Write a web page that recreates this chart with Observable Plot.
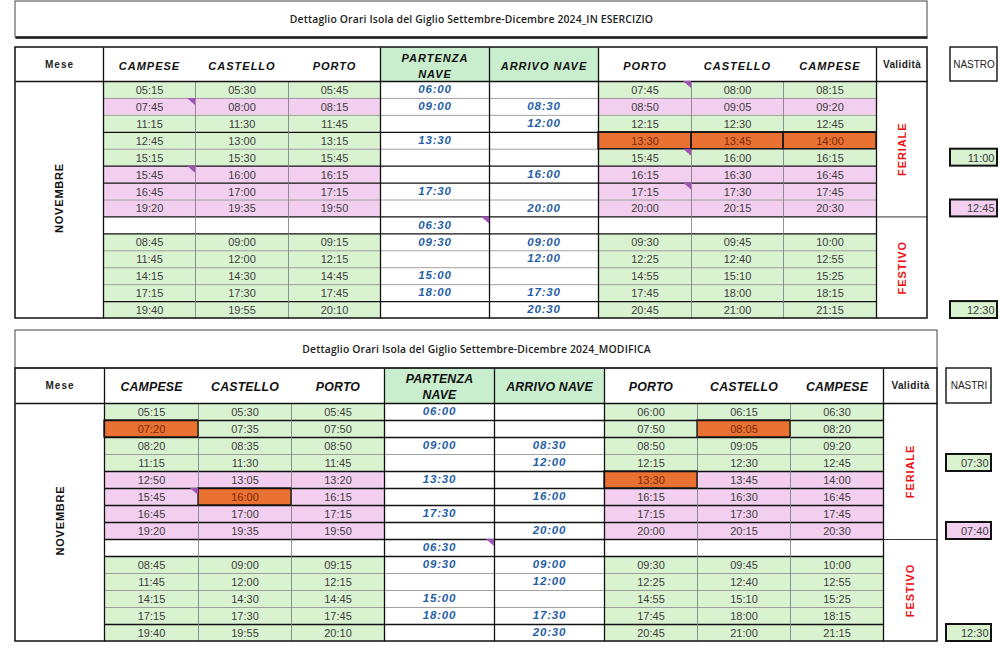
<!DOCTYPE html>
<html><head><meta charset="utf-8">
<script src="https://cdn.jsdelivr.net/npm/d3@7"></script>
<script src="https://cdn.jsdelivr.net/npm/@observablehq/plot@0.6"></script>
<style>
html,body{margin:0;padding:0;background:#fff;overflow:hidden}
</style>
</head><body><div id="chart"></div>
<script>
// ---------------- DATA ----------------
const titles = ["Dettaglio Orari Isola del Giglio Settembre-Dicembre 2024_IN ESERCIZIO",
                "Dettaglio Orari Isola del Giglio Settembre-Dicembre 2024_MODIFICA"];
const headerLabels = ["Mese","CAMPESE","CASTELLO","PORTO","PARTENZA\nNAVE","ARRIVO NAVE","PORTO","CASTELLO","CAMPESE","Validità"];
const nastroLabels = ["NASTRO","NASTRI"];
const monthLabel = "NOVEMBRE";
const validityLabels = ["FERIALE","FESTIVO"];
const validityRowCounts = [8, 6];

// Table 1 – IN ESERCIZIO
const t1Campese   = ["05:15","07:45","11:15","12:45","15:15","15:45","16:45","19:20","","08:45","11:45","14:15","17:15","19:40"];
const t1Castello  = ["05:30","08:00","11:30","13:00","15:30","16:00","17:00","19:35","","09:00","12:00","14:30","17:30","19:55"];
const t1Porto     = ["05:45","08:15","11:45","13:15","15:45","16:15","17:15","19:50","","09:15","12:15","14:45","17:45","20:10"];
const t1Partenza  = ["06:00","09:00","","13:30","","","17:30","","06:30","09:30","","15:00","18:00",""];
const t1Arrivo    = ["","08:30","12:00","","","16:00","","20:00","","09:00","12:00","","17:30","20:30"];
const t1PortoR    = ["07:45","08:50","12:15","13:30","15:45","16:15","17:15","20:00","","09:30","12:25","14:55","17:45","20:45"];
const t1CastelloR = ["08:00","09:05","12:30","13:45","16:00","16:30","17:30","20:15","","09:45","12:40","15:10","18:00","21:00"];
const t1CampeseR  = ["08:15","09:20","12:45","14:00","16:15","16:45","17:45","20:30","","10:00","12:55","15:25","18:15","21:15"];
const t1LeftBand  = ["g","p","g","g","g","p","p","p","w","g","g","g","g","g"];
const t1RightBand = ["g","p","g","g","g","p","p","p","w","g","g","g","g","g"];
const t1Changed   = [[6,3],[7,3],[8,3]];
const t1Notes     = [[1,1],[1,5],[4,8],[6,0],[6,4],[6,6]];
const t1NastroRows  = [4,7,13];
const t1NastroTimes = ["11:00","12:45","12:30"];
const t1NastroBand  = ["g","p","g"];

// Table 2 – MODIFICA
const t2Campese   = ["05:15","07:20","08:20","11:15","12:50","15:45","16:45","19:20","","08:45","11:45","14:15","17:15","19:40"];
const t2Castello  = ["05:30","07:35","08:35","11:30","13:05","16:00","17:00","19:35","","09:00","12:00","14:30","17:30","19:55"];
const t2Porto     = ["05:45","07:50","08:50","11:45","13:20","16:15","17:15","19:50","","09:15","12:15","14:45","17:45","20:10"];
const t2Partenza  = ["06:00","","09:00","","13:30","","17:30","","06:30","09:30","","15:00","18:00",""];
const t2Arrivo    = ["","","08:30","12:00","","16:00","","20:00","","09:00","12:00","","17:30","20:30"];
const t2PortoR    = ["06:00","07:50","08:50","12:15","13:30","16:15","17:15","20:00","","09:30","12:25","14:55","17:45","20:45"];
const t2CastelloR = ["06:15","08:05","09:05","12:30","13:45","16:30","17:30","20:15","","09:45","12:40","15:10","18:00","21:00"];
const t2CampeseR  = ["06:30","08:20","09:20","12:45","14:00","16:45","17:45","20:30","","10:00","12:55","15:25","18:15","21:15"];
const t2LeftBand  = ["g","g","g","g","p","p","p","p","w","g","g","g","g","g"];
const t2RightBand = ["g","g","g","g","p","p","p","p","w","g","g","g","g","g"];
const t2Changed   = [[1,1],[2,5],[7,1],[6,4]];
const t2Notes     = [[1,5],[4,8]];
const t2NastroRows  = [3,7,13];
const t2NastroTimes = ["07:30","07:40","12:30"];
const t2NastroBand  = ["g","p","g"];

// ---------------- LAYOUT / STYLE ----------------
const bandColor = {g:"#d9f2d0", p:"#f2ceef", w:"#ffffff"};
const ORANGE = "#e97132", HEADGREEN = "#c9eecd", BLUE = "#1f5ea6", NOTE = "#a052b8";
const layouts = [
  {cols:[15,103,195,288,380,489,598,691,783,876,927], titleTop:1, titleBot:37, titleGap:true,
   headTop:47, headBot:81, bodyBot:318, nastroX:[950,997], thick:[3,5,6,8,9,13]},
  {cols:[15,104,198,291,384,494,604,697,790,883,937], titleTop:330, titleBot:368, titleGap:false,
   headTop:368, headBot:403, bodyBot:641, nastroX:[946,991], thick:[1,2,4,5,6,7,8,9,13]}
];
const tables = [
  {cols:[t1Campese,t1Castello,t1Porto,t1Partenza,t1Arrivo,t1PortoR,t1CastelloR,t1CampeseR],
   left:t1LeftBand, right:t1RightBand, changed:t1Changed, notes:t1Notes,
   nRows:t1NastroRows, nTimes:t1NastroTimes, nBand:t1NastroBand, nBold:"normal"},
  {cols:[t2Campese,t2Castello,t2Porto,t2Partenza,t2Arrivo,t2PortoR,t2CastelloR,t2CampeseR],
   left:t2LeftBand, right:t2RightBand, changed:t2Changed, notes:t2Notes,
   nRows:t2NastroRows, nTimes:t2NastroTimes, nBand:t2NastroBand, nBold:"bold"}
];

// ---------------- BUILD ----------------
const fills=[], lines=[], boxes=[], tri=[], times=[], ships=[], hdr1=[], hdr2=[], plain=[], months=[], valids=[], titleT=[], nastroT=[];
tables.forEach((T, ti) => {
  const L = layouts[ti], C = L.cols;
  const nR = T.cols[0].length;
  const rh = (L.bodyBot - L.headBot) / nR;
  const top = r => L.headBot + r * rh;
  const cx = c => (C[c] + C[c+1]) / 2;
  const isChanged = (c, r) => T.changed.some(([a,b]) => a===c && b===r);
  boxes.push({x1:C[0], x2:C[10], y1:L.titleTop, y2:L.titleBot, sw:1, s:"#444"});
  if (L.titleGap) lines.push({x1:C[0], x2:C[10], y1:L.titleBot, y2:L.titleBot, s:"#000", sw:2.6});
  titleT.push({x:(C[0]+C[10])/2, y:(L.titleTop+L.titleBot)/2, t:titles[ti]});
  [4,5].forEach(c => fills.push({x1:C[c], x2:C[c+1], y1:L.headTop, y2:L.headBot, f:HEADGREEN}));
  headerLabels.forEach((h, c) => {
    const o = {x:cx(c), y:(L.headTop+L.headBot)/2, t:h};
    if (c===0) plain.push({...o, k:"mese"});
    else if (c===9) plain.push({...o, k:"valid"});
    else (ti===0 ? hdr1 : hdr2).push(o);
  });
  for (let r = 0; r < nR; r++) {
    for (let c = 1; c <= 8; c++) {
      const v = T.cols[c-1][r];
      if (c===4 || c===5) {
        if (v) ships.push({x:cx(c), y:top(r)+rh/2-0.5, t:v});
        continue;
      }
      const band = c <= 3 ? T.left[r] : T.right[r];
      const ch = isChanged(c, r);
      fills.push({x1:C[c], x2:C[c+1], y1:top(r), y2:top(r+1), f: ch ? ORANGE : bandColor[band]});
      if (ch) boxes.push({x1:C[c], x2:C[c+1], y1:top(r), y2:top(r+1), sw:1.3, s:"#111"});
      if (v) times.push({x:cx(c), y:top(r)+rh/2+0.5, t:v, f: ch ? "#7a2b08" : "#3d3d3d"});
    }
  }
  for (let r = 1; r < nR; r++) {
    const th = L.thick.includes(r);
    lines.push({x1:C[1], x2:C[9], y1:top(r), y2:top(r), s: th ? "#111" : "#8a8a8a", sw: th ? 1.3 : 0.8});
  }
  [2,3,7,8].forEach(c => lines.push({x1:C[c], x2:C[c], y1:L.headBot, y2:L.bodyBot, s:"#7a7a7a", sw:0.8}));
  [1,4,5,6,9].forEach(c => lines.push({x1:C[c], x2:C[c], y1:L.headTop, y2:L.bodyBot, s:"#111", sw:1.3}));
  lines.push({x1:C[0], x2:C[10], y1:L.headBot, y2:L.headBot, s:"#111", sw:1.5});
  const split = top(validityRowCounts[0]);
  lines.push({x1:C[9], x2:C[10], y1:split, y2:split, s:"#333", sw:1});
  boxes.push({x1:C[0], x2:C[10], y1:L.headTop, y2:L.bodyBot, sw:1.5, s:"#111"});
  months.push({x:cx(0), y:(L.headBot+L.bodyBot)/2 - 2, t:monthLabel});
  let acc = 0;
  validityLabels.forEach((v, i) => {
    const y1 = top(acc), y2 = top(acc + validityRowCounts[i]);
    valids.push({x:cx(9), y:(y1+y2)/2, t:v});
    acc += validityRowCounts[i];
  });
  T.notes.forEach(([c, r], i) => {
    const x = C[c+1], y = top(r), z = ti + "-" + i;
    tri.push({x:x-8, y1:y, y2:y, z}, {x:x, y1:y, y2:y+7, z});
  });
  boxes.push({x1:L.nastroX[0], x2:L.nastroX[1], y1:L.headTop, y2:L.headBot, sw:1.4, s:"#111"});
  nastroT.push({x:(L.nastroX[0]+L.nastroX[1])/2, y:(L.headTop+L.headBot)/2, t:nastroLabels[ti], w:T.nBold, a:"middle"});
  T.nRows.forEach((r, i) => {
    fills.push({x1:L.nastroX[0], x2:L.nastroX[1], y1:top(r), y2:top(r+1), f:bandColor[T.nBand[i]]});
    boxes.push({x1:L.nastroX[0], x2:L.nastroX[1], y1:top(r), y2:top(r+1), sw:2, s:"#111"});
    nastroT.push({x:L.nastroX[1]-3, y:top(r)+rh/2+0.5, t:T.nTimes[i], w:"normal", a:"end"});
  });
});

const FF = "Liberation Sans, Arial, sans-serif";
const chart = Plot.plot({
  width: 1000, height: 649, margin: 0,
  style: {background: "#fff"},
  x: {type: "linear", domain: [0, 1000], range: [0, 1000], axis: null},
  y: {type: "linear", domain: [0, 649], range: [0, 649], axis: null},
  color: {type: "identity"},
  marks: [
    Plot.rect(fills, {x1:"x1", x2:"x2", y1:"y1", y2:"y2", fill:"f"}),
    Plot.link(lines, {x1:"x1", x2:"x2", y1:"y1", y2:"y2", stroke:"s", strokeWidth:"sw"}),
    Plot.rect(boxes, {x1:"x1", x2:"x2", y1:"y1", y2:"y2", fill:"none", stroke:"s", strokeWidth:"sw"}),
    Plot.areaY(tri, {x:"x", y1:"y1", y2:"y2", z:"z", fill:NOTE}),
    Plot.text(titleT, {x:"x", y:"y", text:"t", fontFamily:"Open Sans, sans-serif", fontWeight:600, fontSize:10.4, fill:"#222", ariaDescription:"ls-title"}),
    Plot.text(hdr1, {x:"x", y:"y", text:"t", fontFamily:FF, fontWeight:"bold", fontStyle:"italic", fontSize:11, lineHeight:1.45, fill:"#111", ariaDescription:"ls-hdr1"}),
    Plot.text(hdr2, {x:"x", y:"y", text:"t", fontFamily:FF, fontWeight:"bold", fontStyle:"italic", fontSize:12.3, lineHeight:1.3, fill:"#111", ariaDescription:"ls-hdr2"}),
    Plot.text(plain.filter(d => d.k==="mese"), {x:"x", y:"y", text:"t", fontFamily:FF, fontWeight:"bold", fontSize:10, fill:"#222", ariaDescription:"ls-mese"}),
    Plot.text(plain.filter(d => d.k==="valid"), {x:"x", y:"y", text:"t", fontFamily:FF, fontWeight:"bold", fontSize:10, fill:"#222", ariaDescription:"ls-validh"}),
    Plot.text(times, {x:"x", y:"y", text:"t", fontFamily:FF, fontSize:11, fill:"f"}),
    Plot.text(ships, {x:"x", y:"y", text:"t", fontFamily:FF, fontWeight:"bold", fontStyle:"italic", fontSize:11.5, fill:BLUE, ariaDescription:"ls-ship"}),
    Plot.text(months, {x:"x", y:"y", text:"t", rotate:-90, fontFamily:FF, fontWeight:"bold", fontSize:11, fill:"#111", ariaDescription:"ls-month"}),
    Plot.text(valids, {x:"x", y:"y", text:"t", rotate:-90, fontFamily:FF, fontWeight:"bold", fontSize:11, fill:"#ee1111", ariaDescription:"ls-valid"}),
    Plot.text(nastroT.filter(d => d.a==="middle"), {x:"x", y:"y", text:"t", fontFamily:FF, fontSize:10, fontWeight:"w", fill:"#222"}),
    Plot.text(nastroT.filter(d => d.a==="end"), {x:"x", y:"y", text:"t", textAnchor:"end", fontFamily:FF, fontSize:11, fill:"#3a3a3a"})
  ]
});
// letter spacing per text group
const spacing = {"ls-title":0.15, "ls-hdr1":1, "ls-hdr2":0.2, "ls-mese":1, "ls-validh":0.4, "ls-ship":0.8, "ls-month":0.8, "ls-valid":0.9};
Object.entries(spacing).forEach(([k, v]) => {
  d3.select(chart).selectAll(`g[aria-description="${k}"] text`).style("letter-spacing", v + "px");
});
document.getElementById("chart").appendChild(chart);
</script>
</body></html>
